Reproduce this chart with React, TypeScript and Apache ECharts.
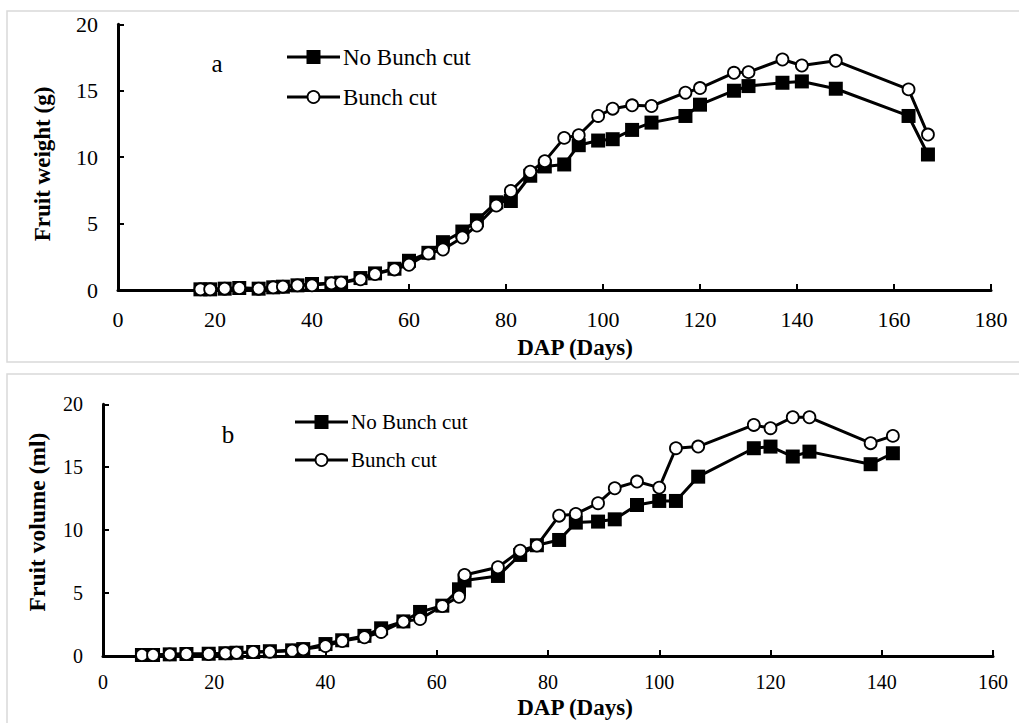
import React, { useEffect, useRef } from "react";
import * as echarts from "echarts";

// Panel a: fruit weight (g)
const daysA = [17, 19, 22, 25, 29, 32, 34, 37, 40, 44, 46, 50, 53, 57, 60, 64, 67, 71, 74, 78, 81, 85, 88, 92, 95, 99, 102, 106, 110, 117, 120, 127, 130, 137, 141, 148, 163, 167];
const noCutA = [0.05, 0.05, 0.1, 0.15, 0.1, 0.2, 0.25, 0.35, 0.45, 0.5, 0.55, 0.9, 1.25, 1.6, 2.2, 2.8, 3.6, 4.4, 5.25, 6.6, 6.7, 8.6, 9.3, 9.45, 10.9, 11.25, 11.35, 12.05, 12.6, 13.1, 13.95, 15.0, 15.35, 15.6, 15.7, 15.15, 13.1, 10.2];
const cutA = [0.05, 0.05, 0.1, 0.15, 0.1, 0.2, 0.25, 0.35, 0.35, 0.5, 0.55, 0.8, 1.2, 1.55, 1.9, 2.75, 3.05, 3.95, 4.85, 6.35, 7.45, 8.9, 9.7, 11.45, 11.65, 13.1, 13.65, 13.9, 13.85, 14.85, 15.2, 16.35, 16.4, 17.35, 16.9, 17.25, 15.1, 11.7];

// Panel b: fruit volume (ml)
const daysB = [7, 9, 12, 15, 19, 22, 24, 27, 30, 34, 36, 40, 43, 47, 50, 54, 57, 61, 64, 65, 71, 75, 78, 82, 85, 89, 92, 96, 100, 103, 107, 117, 120, 124, 127, 138, 142];
const noCutB = [0.08, 0.08, 0.13, 0.16, 0.18, 0.22, 0.26, 0.32, 0.38, 0.45, 0.55, 0.95, 1.25, 1.6, 2.2, 2.75, 3.5, 4.0, 5.3, 6.0, 6.36, 8.03, 8.8, 9.22, 10.6, 10.68, 10.86, 12.0, 12.32, 12.32, 14.25, 16.51, 16.64, 15.85, 16.24, 15.24, 16.11];
const cutB = [0.08, 0.08, 0.13, 0.16, 0.16, 0.21, 0.26, 0.32, 0.34, 0.42, 0.53, 0.79, 1.19, 1.49, 1.91, 2.73, 2.94, 3.97, 4.71, 6.44, 7.05, 8.37, 8.77, 11.15, 11.29, 12.14, 13.33, 13.86, 13.38, 16.51, 16.64, 18.36, 18.1, 18.97, 18.97, 16.91, 17.49];

const seriesNames = ["No Bunch cut", "Bunch cut"];
const panelLabels = ["a", "b"];
const yTitles = ["Fruit weight (g)", "Fruit volume (ml)"];
const xTitle = "DAP (Days)";

const FONT = "Liberation Serif";

const zip = (xs: number[], ys: number[]) => xs.map((x, i) => [x, ys[i]]);

const txt = (x: number, y: number, text: string, fontSize: number, bold: boolean, align: string, rotation = 0) => ({
  type: "text",
  x,
  y,
  rotation,
  silent: true,
  style: {
    text,
    fontFamily: FONT,
    fontSize,
    fontWeight: bold ? "bold" : "normal",
    fill: "#000",
    align,
    verticalAlign: "middle",
  },
});

const legendItem = (x0: number, x1: number, y: number, square: boolean, label: string, fontSize: number) => {
  const mid = (x0 + x1) / 2;
  const items: any[] = [
    { type: "line", silent: true, shape: { x1: x0, y1: y, x2: x1, y2: y }, style: { stroke: "#000", lineWidth: 3 } },
  ];
  if (square) {
    items.push({ type: "rect", silent: true, shape: { x: mid - 7, y: y - 7, width: 14, height: 14 }, style: { fill: "#000" } });
  } else {
    items.push({ type: "circle", silent: true, shape: { cx: mid, cy: y, r: 6 }, style: { fill: "#fff", stroke: "#000", lineWidth: 1.8 } });
  }
  items.push(txt(x1 + 3, y, label, fontSize, false, "left"));
  return items;
};

export default function App() {
  const ref = useRef<HTMLDivElement>(null);
  useEffect(() => {
    if (!ref.current) return;
    const chart = echarts.init(ref.current, undefined, { renderer: "svg" });

    const axisCommon = (fontSize: number, margin: number) => ({
      axisLine: { show: true, lineStyle: { color: "#000", width: 3 } },
      axisTick: { show: true, inside: true, length: 6, lineStyle: { color: "#000", width: 2 } },
      axisLabel: { color: "#000", fontFamily: FONT, fontSize, margin },
      splitLine: { show: false },
    });

    const lineSeries = (name: string, data: number[][], idx: number, square: boolean, size: number) => ({
      type: "line",
      name,
      xAxisIndex: idx,
      yAxisIndex: idx,
      data,
      symbol: square ? "rect" : "circle",
      symbolSize: size,
      showSymbol: true,
      lineStyle: { color: "#000", width: 3 },
      itemStyle: square
        ? { color: "#000", borderColor: "#000", borderWidth: 0 }
        : { color: "#fff", borderColor: "#000", borderWidth: 1.8 },
      z: square ? 2 : 3,
    });

    chart.setOption({
      animation: false,
      backgroundColor: "#fff",
      grid: [
        { left: 118, top: 24.3, width: 873, height: 265.7 },
        { left: 103, top: 404.3, width: 890, height: 251.7 },
      ],
      xAxis: [
        { type: "value", gridIndex: 0, min: 0, max: 180, interval: 20, ...axisCommon(22, 18) },
        { type: "value", gridIndex: 1, min: 0, max: 160, interval: 20, ...axisCommon(20, 16) },
      ],
      yAxis: [
        { type: "value", gridIndex: 0, min: 0, max: 20, interval: 5, ...axisCommon(22, 20) },
        { type: "value", gridIndex: 1, min: 0, max: 20, interval: 5, ...axisCommon(20, 20) },
      ],
      series: [
        lineSeries(seriesNames[0], zip(daysA, noCutA), 0, true, 14),
        lineSeries(seriesNames[1], zip(daysA, cutA), 0, false, 12),
        lineSeries(seriesNames[0], zip(daysB, noCutB), 1, true, 14),
        lineSeries(seriesNames[1], zip(daysB, cutB), 1, false, 12),
      ],
      graphic: [
        { type: "rect", silent: true, z: -10, shape: { x: 7, y: 11, width: 1030, height: 351 }, style: { fill: "none", stroke: "#d9d9d9", lineWidth: 1.5 } },
        { type: "rect", silent: true, z: -10, shape: { x: 7, y: 374, width: 1030, height: 380 }, style: { fill: "none", stroke: "#d9d9d9", lineWidth: 1.5 } },
        ...legendItem(287, 340, 57, true, seriesNames[0], 23),
        ...legendItem(287, 340, 97, false, seriesNames[1], 23),
        ...legendItem(295, 348, 422, true, seriesNames[0], 21),
        ...legendItem(295, 348, 460, false, seriesNames[1], 21),
        txt(217, 63, panelLabels[0], 25, false, "center"),
        txt(228, 434, panelLabels[1], 25, false, "center"),
        txt(42, 164, yTitles[0], 23, true, "center", Math.PI / 2),
        txt(37, 522, yTitles[1], 23.5, true, "center", Math.PI / 2),
        txt(575, 347, xTitle, 23, true, "center"),
        txt(575, 707, xTitle, 23, true, "center"),
      ],
    });
    return () => chart.dispose();
  }, []);
  return (
    <div
      ref={ref}
      style={{ position: "fixed", left: 0, top: 0, width: 1019, height: 723, background: "#fff" }}
    />
  );
}
